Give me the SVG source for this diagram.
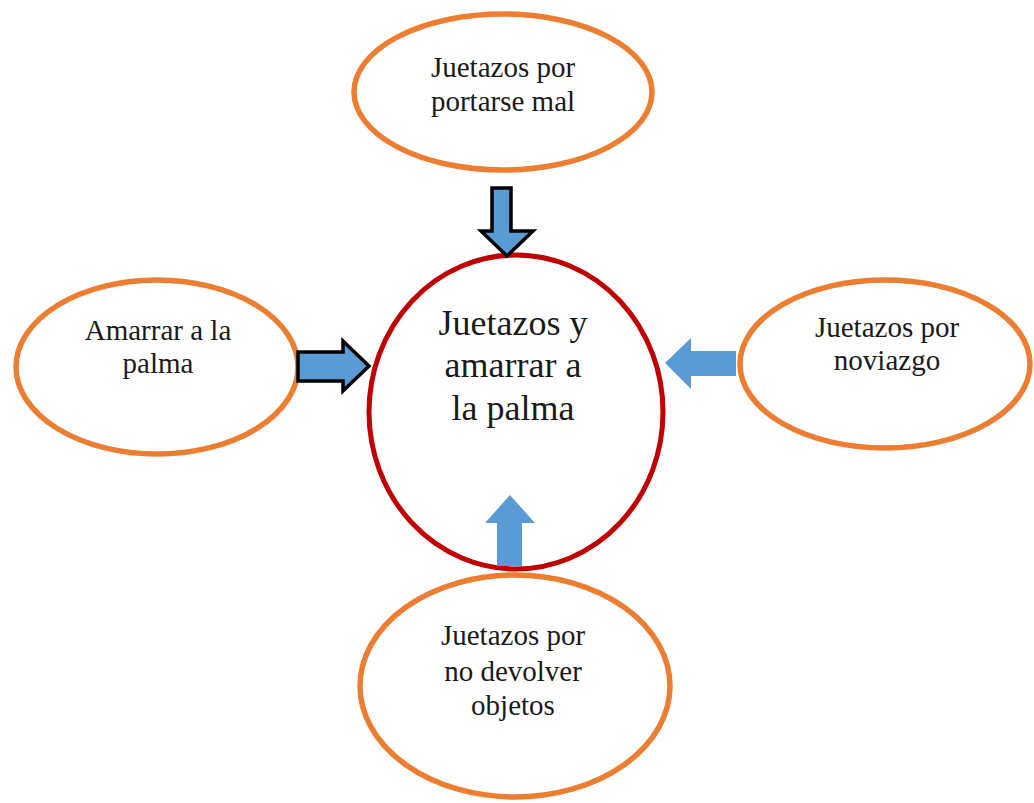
<svg xmlns="http://www.w3.org/2000/svg" width="1034" height="803" viewBox="0 0 1034 803">
  <style>
    .leaf { fill: #ffffff; stroke: #ED7D31; stroke-width: 5.5; }
    .hub { fill: #ffffff; stroke: #C00000; stroke-width: 5; }
    .label { font-family: "Liberation Serif", "Times New Roman", serif; fill: #1a1a1a; text-anchor: middle; }
    .small { font-size: 29px; }
    .big { font-size: 36px; }
    .arrow { fill: #5B9BD5; }
    .outlined { stroke: #000000; stroke-width: 3.5; stroke-linejoin: miter; }
  </style>
  <rect width="1034" height="803" fill="#ffffff"/>

  <g id="node-top">
    <ellipse class="leaf" cx="503" cy="92" rx="149" ry="78"/>
    <text class="label small" x="503" y="77">Juetazos por</text>
    <text class="label small" x="503" y="111">portarse mal</text>
  </g>

  <g id="node-left">
    <ellipse class="leaf" cx="157" cy="367" rx="141" ry="87"/>
    <text class="label small" x="158" y="340">Amarrar a la</text>
    <text class="label small" x="158" y="373">palma</text>
  </g>

  <g id="node-right">
    <ellipse class="leaf" cx="885" cy="364" rx="145" ry="84"/>
    <text class="label small" x="887" y="337">Juetazos por</text>
    <text class="label small" x="887" y="370">noviazgo</text>
  </g>

  <g id="node-bottom">
    <ellipse class="leaf" cx="515" cy="686" rx="155" ry="111"/>
    <text class="label small" x="513" y="645">Juetazos por</text>
    <text class="label small" x="513" y="681">no devolver</text>
    <text class="label small" x="513" y="715">objetos</text>
  </g>

  <g id="node-center">
    <ellipse class="hub" cx="516" cy="412" rx="147" ry="157"/>
    <text class="label big" x="513" y="335">Juetazos y</text>
    <text class="label big" x="513" y="377">amarrar a</text>
    <text class="label big" x="513" y="420">la palma</text>
  </g>

  <!-- block arrows drawn last so they sit over the ellipse outlines -->
  <g id="connectors">
    <!-- top: pointing down into the hub -->
    <polygon class="arrow outlined" points="492,188 511,188 511,231 533,231 507,256 481,231 492,231"/>
    <!-- left: pointing right into the hub -->
    <polygon class="arrow outlined" points="298,352 343,352 343,341 369,366 343,391 343,381 298,381"/>
    <!-- right: pointing left into the hub -->
    <polygon class="arrow" points="736,351 691,351 691,338 665,363 691,389 691,376 736,376"/>
    <!-- bottom: pointing up into the hub -->
    <polygon class="arrow" points="497,566 522,566 522,523 535,523 510,495 485,523 497,523"/>
  </g>
</svg>
